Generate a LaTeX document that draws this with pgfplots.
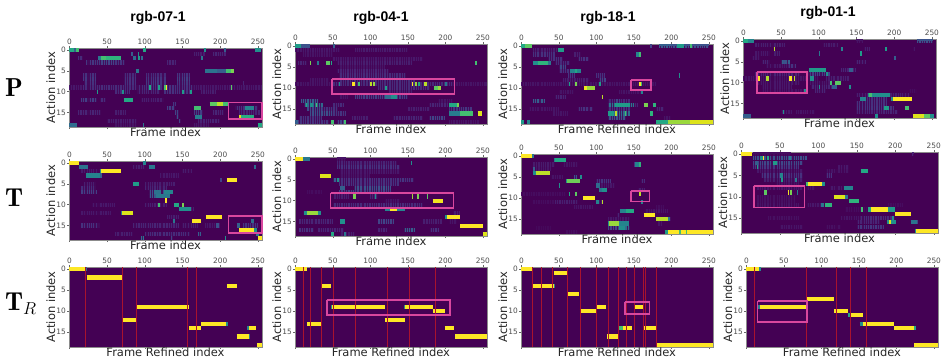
\documentclass[border=0pt]{standalone}
\usepackage{fontspec}
\setsansfont{DejaVu Sans}
\newfontfamily\titlefont{Liberation Sans}
\usepackage{pgfplots}
\usepackage{pgfplotstable}
\pgfplotsset{compat=1.18}
\definecolor{vbg}{HTML}{440154}
\definecolor{pinkbox}{HTML}{D9479E}
\definecolor{redline}{HTML}{A8122E}
\pgfplotsset{hm/.style={
  scale only axis, clip=false, y dir=reverse,
  xmin=-0.5, xmax=255.5, ymin=-0.5, ymax=18.5,
  xtick={0,50,100,150,200,250}, ytick={0,5,10,15},
  xtick pos=both, xticklabel pos=top, ytick pos=left,
  tick align=outside, major tick length=2pt,
  axis line style={draw=black!45, line width=0.5pt},
  tick style={draw=black!60, line width=0.4pt},
  tick label style={font=\sffamily\fontsize{7.4}{8}\selectfont, text=black!70, inner sep=1pt},
  /pgf/number format/assume math mode=true,
  axis background/.style={fill=vbg},
  colormap/viridis, point meta min=0, point meta max=1,
  x label style={font=\sffamily\fontsize{11.5}{12}\selectfont, text=black!85, at={(axis description cs:0.5,0)}, anchor=north, yshift=-1pt, inner sep=0pt},
  y label style={font=\sffamily\fontsize{11.5}{12}\selectfont, text=black!85, at={(axis description cs:0,0.5)}, rotate=0, anchor=south, yshift=13.5pt, inner sep=0pt},
  ylabel={Action index},
  rowseg/.style={point meta=explicit, quiver={u=\thisrow{w}, v=0, colored, every arrow/.append style={line width=4.15pt, line cap=butt}}},
}}
% one row per stretch of a heat map: x start, action row, length, colour value
% faint streaks
\pgfplotstableread[row sep=crcr]{x y w v\\
0 9 255 .06\\ 18 6 17 .14\\ 18 7 17 .16\\ 20 8 15 .14\\ 72 6 16 .12\\ 72 7 16 .14\\ 72 8 16 .14\\ 102 6 26 .12\\ 102 7 26 .15\\ 102 8 26 .16\\ 143 6 17 .15\\ 143 7 17 .18\\ 143 8 17 .16\\ 18 9 90 .12\\ 100 9 65 .14\\
12 2 6 .12\\ 22 3 18 .16\\ 40 3 20 .2\\ 60 3 14 .15\\ 15 12 22 .18\\ 40 12 8 .12\\ 95 12 30 .08\\ 130 3 12 .1\\ 165 1 15 .08\\ 190 1 18 .1\\ 205 5 10 .12\\ 230 8 2 .1\\ 60 10 20 .12\\ 90 10 30 .1\\ 125 10 38 .14\\ 175 10 20 .08\\ 12 15 30 .1\\ 60 15 15 .08\\ 130 14 10 .18\\ 140 15 6 .2\\ 137 13 5 .16\\ 142 16 4 .25\\ 145 17 3 .2\\ 165 15 12 .18\\ 190 15 15 .1\\ 50 17 40 .08\\ 170 17 30 .1\\ 220 14 30 .14\\ 225 15 28 .1\\
2 18 3 .15\\ 60 18 30 .05\\ 165 18 20 .06\\
}\tA
\pgfplotstableread[row sep=crcr]{x y w v\\
0 0 6 .6\\ 6 0 3 .3\\ 9 0 4 .7\\ 97 0 4 .6\\ 178 0 3 .5\\ 205 0 3 .3\\ 246 0 8 .5\\ 82 1 2 .3\\ 91 1 2 .5\\ 38 2 4 .4\\ 42 2 6 .7\\ 48 2 20 .65\\ 85 2 3 .35\\ 91 2 3 .55\\ 95 2 2 .35\\ 175 2 2 .4\\ 180 5 16 .38\\ 196 5 12 .3\\ 208 5 6 .7\\ 214 5 4 .8\\ 88 5 4 .4\\ 106 9 2 .6\\ 118 9 2 .55\\ 128 9 2 1\\ 126 9 2 .7\\ 214 9 2 .75\\ 36 10 2 .55\\ 70 10 2 .5\\ 150 10 2 .55\\ 160 10 2 .55\\ 72 12 12 .6\\ 186 13 10 .75\\ 196 13 8 .9\\ 204 13 6 .7\\ 165 14 10 .7\\ 233 14 12 .45\\ 166 16 10 .42\\ 225 16 2 .95\\ 227 16 18 .62\\ 0 18 10 .35\\ 97 18 2 .4\\ 250 18 5 .6\\
}\tAb
\pgfplotstableread[row sep=crcr]{x y w v\\
105 1 8 .15\\ 85 1 15 .08\\ 15 6 20 .12\\ 15 7 22 .18\\ 100 5 40 .08\\ 100 6 30 .1\\ 105 7 30 .25\\ 105 8 26 .28\\ 20 5 15 .08\\ 120 3 25 .06\\ 150 2 12 .07\\ 15 12 40 .06\\ 100 10 30 .08\\ 15 15 25 .14\\ 85 15 60 .1\\ 150 15 20 .08\\ 100 17 60 .12\\ 60 17 25 .08\\ 170 17 5 .3\\ 230 15 20 .15\\ 130 13 15 .08\\ 135 18 3 .2\\ 95 18 2 .35\\ 150 11 15 .08\\ 30 10 30 .06\\ 15 2 25 .07\\ 180 15 20 .06\\
}\tB
\pgfplotstableread[row sep=crcr]{x y w v\\
13 1 12 .38\\ 105 1 8 .4\\ 245 1 3 .35\\ 97 0 4 .45\\ 0 0 13 1\\ 40 2 2 .5\\ 42 2 26 1\\ 22 3 18 .45\\ 40 3 3 .3\\ 200 4 3 .2\\ 209 4 13 1\\ 85 5 8 .55\\ 125 7 12 .45\\ 112 7 10 .38\\ 115 8 18 .4\\ 127 9 2 1\\ 118 10 2 .7\\ 139 10 6 .6\\ 150 10 2 .8\\ 145 11 16 .5\\ 68 12 3 .4\\ 70 12 14 .95\\ 181 13 22 1\\ 137 14 3 .4\\ 163 14 11 1\\ 241 14 4 .35\\ 222 15 4 .3\\ 225 16 20 1\\ 245 16 4 .5\\ 195 15 4 .25\\ 248 17 4 .4\\ 206 18 2 .5\\ 97 18 2 .4\\ 250 18 5 1\\
}\tBb
\pgfplotstableread[row sep=crcr]{x y w v\\
0 0 22 1\\ 22 0 2 .35\\ 23 2 47 1\\ 209 4 13 1\\ 90 9 69 1\\ 70 12 20 1\\ 175 13 33 1\\ 208 13 2 .5\\ 159 14 15 1\\ 237 14 11 1\\ 236 14 2 .45\\ 222 16 16 1\\ 238 16 2 .4\\ 249 18 6 1\\
}\tC
\pgfplotstableread[row sep=crcr]{x y w v\\
0 9 255 .05\\ 50 3 120 .06\\ 55 4 100 .08\\ 55 6 70 .1\\ 58 7 90 .12\\ 60 8 100 .12\\ 20 8 25 .05\\ 50 9 160 .12\\ 110 10 70 .12\\ 0 1 60 .06\\ 80 1 70 .07\\ 10 2 40 .05\\ 80 12 70 .18\\ 125 11 30 .08\\ 8 13 22 .3\\ 12 14 25 .34\\ 15 15 20 .22\\ 35 15 22 .14\\ 20 16 35 .24\\ 5 17 30 .14\\ 50 16 18 .15\\ 50 14 15 .12\\ 75 17 22 .08\\ 130 17 40 .1\\ 178 17 22 .2\\ 178 14 25 .1\\ 150 15 30 .08\\ 205 15 30 .16\\ 190 13 20 .05\\ 60 12 10 .05\\ 205 18 40 .05\\ 0 18 45 .15\\ 55 18 12 .2\\ 4 4 12 .1\\ 60 5 60 .05\\
}\tD
\pgfplotstableread[row sep=crcr]{x y w v\\
0 0 7 .55\\ 7 0 13 .25\\ 50 0 3 .3\\ 19 4 2 .8\\ 29 4 2 .4\\ 41 4 5 .75\\ 47 4 2 .6\\ 240 4 2 .7\\ 58 9 2 .5\\ 76 9 4 1\\ 84 9 2 .7\\ 100 9 2 .9\\ 104 9 2 .85\\ 155 9 2 1\\ 160 9 2 .85\\ 164 9 2 .6\\ 172 9 4 .9\\ 200 9 2 .4\\ 120 10 2 .55\\ 185 10 5 .75\\ 190 10 4 .85\\ 128 12 8 .5\\ 120 12 8 .35\\ 14 14 2 .6\\ 20 14 3 .5\\ 27 14 2 .7\\ 205 14 10 .6\\ 215 14 3 .8\\ 205 16 15 .42\\ 220 16 17 .7\\ 243 16 6 .95\\ 48 18 3 .7\\ 65 18 2 .7\\ 0 18 3 .3\\
}\tDb
\pgfplotstableread[row sep=crcr]{x y w v\\
55 0 12 .05\\ 55 1 80 .1\\ 55 2 85 .14\\ 60 3 80 .06\\ 55 5 100 .14\\ 58 6 80 .14\\ 78 7 50 .25\\ 58 8 70 .18\\ 100 9 10 .1\\ 52 9 20 .08\\ 50 11 120 .12\\ 120 10 20 .05\\ 5 15 45 .1\\ 110 15 22 .2\\ 170 15 25 .08\\ 5 17 20 .14\\ 30 17 35 .1\\ 110 17 12 .1\\ 145 17 15 .3\\ 180 17 12 .14\\ 10 13 10 .1\\ 60 4 40 .05\\ 15 8 20 .03\\ 210 13 10 .08\\ 205 15 10 .05\\ 60 18 20 .08\\ 140 5 18 .15\\ 50 5 8 .3\\
}\tE
\pgfplotstableread[row sep=crcr]{x y w v\\
0 0 10 1\\ 10 0 10 .4\\ 154 1 2 .5\\ 33 4 14 .95\\ 55 5 3 .5\\ 60 7 6 .3\\ 77 9 4 .8\\ 106 9 2 .5\\ 155 9 2 .85\\ 162 9 3 .8\\ 175 9 2 .75\\ 183 10 14 .98\\ 120 12 6 .45\\ 126 12 10 1\\ 136 12 10 .45\\ 12 13 4 .5\\ 16 13 14 .85\\ 30 13 4 .5\\ 60 15 6 .5\\ 200 14 2 .5\\ 202 14 17 1\\ 220 16 30 1\\ 48 18 4 .6\\ 65 18 2 .4\\ 250 18 5 .95\\
}\tEb
\pgfplotstableread[row sep=crcr]{x y w v\\
0 0 16 1\\ 35 4 13 1\\ 48 9 71 1\\ 146 9 37 1\\ 183 10 16 1\\ 119 12 27 1\\ 16 13 19 1\\ 199 14 13 1\\ 213 16 42 1\\ 47 9 1 .5\\ 145 9 1 .45\\
}\tF
\pgfplotstableread[row sep=crcr]{x y w v\\
0 9 180 .05\\ 15 1 40 .08\\ 15 2 30 .14\\ 35 3 20 .14\\ 70 2 10 .08\\ 75 3 15 .14\\ 45 4 20 .12\\ 50 5 10 .22\\ 50 6 15 .14\\ 62 7 10 .15\\ 100 7 12 .14\\ 103 8 10 .2\\ 55 8 35 .08\\ 15 13 16 .3\\ 45 12 15 .1\\ 50 11 20 .05\\ 115 13 30 .12\\ 115 14 35 .4\\ 115 15 30 .14\\ 115 16 30 .35\\ 115 17 25 .25\\ 150 14 5 .1\\ 75 15 20 .14\\ 10 15 40 .05\\ 42 16 20 .05\\ 190 17 10 .05\\ 200 0 50 .25\\ 184 0 16 .3\\ 130 11 30 .05\\ 125 13 8 .2\\ 180 15 10 .1\\
}\tG
\pgfplotstableread[row sep=crcr]{x y w v\\
0 0 5 .6\\ 5 0 9 .75\\ 49 1 8 .55\\ 172 0 2 .2\\ 153 2 4 .45\\ 157 2 2 .7\\ 15 4 7 .5\\ 22 4 14 .65\\ 36 4 3 .4\\ 65 6 14 .45\\ 71 6 3 .6\\ 63 9 2 .55\\ 72 9 2 .8\\ 104 9 2 .55\\ 157 9 2 1\\ 159 9 1 .7\\ 83 10 4 .98\\ 87 10 11 .85\\ 107 12 2 .9\\ 160 11 2 .45\\ 125 14 20 .55\\ 163 14 6 .8\\ 175 14 4 .65\\ 115 16 8 .55\\ 125 16 3 .9\\ 138 16 2 .7\\ 172 16 3 .65\\ 0 18 4 .55\\ 8 18 4 .45\\ 180 18 15 .6\\ 195 18 30 .85\\ 225 18 30 .95\\ 207 0 10 .55\\ 225 0 3 .7\\ 210 7 2 .5\\
}\tGb
\pgfplotstableread[row sep=crcr]{x y w v\\
0 9 60 .03\\ 15 2 30 .07\\ 15 3 25 .06\\ 55 2 20 .05\\ 40 5 15 .05\\ 105 7 20 .06\\ 100 6 20 .15\\ 15 11 60 .03\\ 45 11 30 .08\\ 70 12 25 .05\\ 100 11 10 .06\\ 115 15 30 .06\\ 115 17 25 .2\\ 130 17 15 .35\\ 127 14 5 .1\\ 150 2 5 .15\\ 160 6 5 .12\\ 155 8 10 .08\\ 165 13 30 .05\\ 20 17 20 .02\\ 195 15 5 .04\\ 60 18 15 .03\\ 182 16 5 .05\\ 180 12 10 .03\\ 70 5 4 .25\\
}\tH
\pgfplotstableread[row sep=crcr]{x y w v\\
0 0 14 1\\ 14 0 3 .4\\ 43 1 2 .4\\ 45 1 14 .6\\ 152 2 5 .45\\ 157 2 2 .65\\ 15 3 3 .3\\ 15 4 4 .5\\ 19 4 19 .9\\ 50 7 2 .5\\ 59 6 3 .5\\ 61 6 17 .78\\ 78 5 3 .5\\ 103 8 11 .5\\ 100 7 5 .35\\ 103 8 4 .4\\ 63 9 1 .6\\ 72 9 2 .75\\ 157 9 2 .9\\ 82 10 16 1\\ 100 11 4 .45\\ 107 11 2 .9\\ 160 11 2 .45\\ 131 13 8 .45\\ 139 13 11 .6\\ 163 14 15 1\\ 180 15 15 .9\\ 195 15 3 .4\\ 115 16 2 .5\\ 117 16 13 .85\\ 130 16 14 .45\\ 130 17 8 .5\\ 191 18 5 .55\\ 196 18 59 1\\ 210 18 3 .7\\ 219 18 2 .7\\
}\tHb
\pgfplotstableread[row sep=crcr]{x y w v\\
0 0 14 1\\ 43 1 19 1\\ 14 4 29 1\\ 61 6 16 1\\ 100 9 13 1\\ 150 9 12 1\\ 78 10 22 1\\ 130 14 18 1\\ 162 14 18 1\\ 114 16 16 1\\ 180 18 75 1\\ 129 14 6 .7\\ 43 4 2 .4\\
}\tI
\pgfplotstableread[row sep=crcr]{x y w v\\
0 9 100 .05\\ 15 1 40 .08\\ 15 3 20 .06\\ 12 4 10 .06\\ 25 5 10 .1\\ 50 5 12 .3\\ 60 6 10 .15\\ 30 6 30 .06\\ 15 8 60 .1\\ 100 8 10 .14\\ 85 8 30 .2\\ 88 10 30 .06\\ 90 11 30 .1\\ 95 12 15 .1\\ 110 9 30 .08\\ 130 7 20 .1\\ 20 10 55 .06\\ 25 12 60 .05\\ 25 11 40 .06\\ 150 13 70 .08\\ 150 15 40 .14\\ 150 16 50 .15\\ 155 14 35 .14\\ 150 17 55 .1\\ 50 17 15 .06\\ 220 12 10 .03\\ 40 3 8 .08\\ 230 0 22 .25\\ 225 2 3 .05\\ 160 2 8 .08\\ 150 0 8 .05\\ 150 5 12 .1\\ 105 1 20 .07\\ 70 17 25 .05\\
}\tJ
\pgfplotstableread[row sep=crcr]{x y w v\\
0 0 6 .6\\ 6 0 8 .45\\ 40 2 2 .9\\ 130 2 2 .45\\ 188 2 2 .55\\ 100 3 2 .4\\ 155 3 2 .55\\ 52 5 6 .25\\ 200 4 2 .3\\ 87 7 23 .55\\ 140 7 5 .3\\ 110 8 2 .5\\ 20 9 2 1\\ 30 9 4 .88\\ 60 9 5 1\\ 67 9 2 .9\\ 88 9 6 .5\\ 115 10 2 .7\\ 122 10 8 .75\\ 100 11 2 .5\\ 118 11 6 .3\\ 140 11 3 .5\\ 80 12 3 .5\\ 165 13 30 .5\\ 167 13 3 .7\\ 155 14 8 .45\\ 198 14 26 1\\ 196 14 2 .5\\ 187 16 6 .55\\ 214 16 6 .7\\ 52 17 2 .5\\ 0 18 10 .3\\ 175 18 3 .5\\ 225 18 15 .95\\ 240 18 8 .75\\ 248 18 5 .5\\
}\tJb
\pgfplotstableread[row sep=crcr]{x y w v\\
15 0 50 .03\\ 15 1 70 .25\\ 15 2 65 .22\\ 15 3 60 .16\\ 20 4 60 .06\\ 25 5 55 .14\\ 30 6 50 .08\\ 45 7 30 .05\\ 110 5 8 .14\\ 110 4 30 .05\\ 125 3 15 .06\\ 20 8 60 .06\\ 85 8 10 .05\\ 20 10 50 .04\\ 20 12 55 .05\\ 85 12 20 .06\\ 115 8 25 .06\\ 20 11 50 .04\\ 155 15 45 .12\\ 150 16 30 .1\\ 150 17 35 .16\\ 130 15 25 .05\\ 35 15 40 .04\\ 50 17 30 .05\\ 110 17 20 .04\\ 190 12 20 .03\\ 135 13 30 .03\\ 225 16 5 .2\\ 222 0 2 .1\\
}\tK
\pgfplotstableread[row sep=crcr]{x y w v\\
0 0 14 1\\ 24 1 5 .5\\ 28 1 2 1\\ 33 1 3 .6\\ 41 2 5 .55\\ 18 2 4 .3\\ 62 1 3 .4\\ 20 3 2 .55\\ 155 4 9 .6\\ 50 5 4 .45\\ 52 6 2 .55\\ 70 6 2 .4\\ 84 7 3 .7\\ 87 7 18 1\\ 105 7 4 .5\\ 133 8 12 .45\\ 30 9 3 .75\\ 60 9 2 .98\\ 63 9 3 .8\\ 72 9 2 .4\\ 120 10 15 .95\\ 135 10 3 .4\\ 140 11 13 .65\\ 108 12 10 .65\\ 103 12 4 .4\\ 155 13 3 .7\\ 164 13 4 .6\\ 168 13 22 1\\ 190 13 9 .55\\ 200 14 21 1\\ 196 15 2 .5\\ 189 16 3 .5\\ 192 16 3 .95\\ 195 16 6 .5\\ 220 16 8 .38\\ 225 18 1 .5\\ 227 18 28 1\\
}\tKb
\pgfplotstableread[row sep=crcr]{x y w v\\
0 0 17 1\\ 17 0 2 .45\\ 80 7 37 1\\ 16 9 2 .45\\ 18 9 61 1\\ 117 10 19 1\\ 136 11 2 .6\\ 138 11 18 1\\ 151 13 5 .5\\ 155 13 42 1\\ 197 14 27 1\\ 224 18 31 1\\ 224 14 2 .6\\
}\tL
% dark gaps between the faint streaks
\pgfplotstableread[row sep=crcr]{x y\\ 1 18.5\\ 4 18.5\\ 8 18.5\\ 11 18.5\\ 13 18.5\\ 17 18.5\\ 20 18.5\\ 24 18.5\\ 26 18.5\\ 29 18.5\\ 33 18.5\\ 36 18.5\\ 39 18.5\\ 41 18.5\\ 45 18.5\\ 48 18.5\\ 51 18.5\\ 55 18.5\\ 57 18.5\\ 60 18.5\\ 64 18.5\\ 67 18.5\\ 70 18.5\\ 73 18.5\\ 76 18.5\\ 79 18.5\\ 82 18.5\\ 86 18.5\\ 89 18.5\\ 91 18.5\\ 95 18.5\\ 98 18.5\\ 101 18.5\\ 104 18.5\\ 107 18.5\\ 110 18.5\\ 113 18.5\\ 116 18.5\\ 120 18.5\\ 123 18.5\\ 125 18.5\\ 129 18.5\\ 132 18.5\\ 135 18.5\\ 139 18.5\\ 142 18.5\\ 145 18.5\\ 148 18.5\\ 151 18.5\\ 154 18.5\\ 158 18.5\\ 161 18.5\\ 164 18.5\\ 167 18.5\\ 170 18.5\\ 173 18.5\\ 177 18.5\\ 180 18.5\\ 183 18.5\\ 186 18.5\\ 189 18.5\\ 192 18.5\\ 196 18.5\\ 199 18.5\\ 202 18.5\\ 205 18.5\\ 208 18.5\\ 211 18.5\\ 215 18.5\\ 218 18.5\\ 221 18.5\\ 224 18.5\\ 227 18.5\\ 230 18.5\\ 234 18.5\\ 237 18.5\\ 240 18.5\\ 243 18.5\\ 246 18.5\\ 249 18.5\\ 253 18.5\\}\gapA
\pgfplotstableread[row sep=crcr]{x y\\ 2 18.5\\ 6 18.5\\ 9 18.5\\ 12 18.5\\ 15 18.5\\ 19 18.5\\ 22 18.5\\ 25 18.5\\ 28 18.5\\ 31 18.5\\ 34 18.5\\ 38 18.5\\ 40 18.5\\ 44 18.5\\ 47 18.5\\ 50 18.5\\ 53 18.5\\ 56 18.5\\ 59 18.5\\ 63 18.5\\ 66 18.5\\ 68 18.5\\ 72 18.5\\ 75 18.5\\ 78 18.5\\ 81 18.5\\ 84 18.5\\ 87 18.5\\ 90 18.5\\ 94 18.5\\ 97 18.5\\ 100 18.5\\ 103 18.5\\ 106 18.5\\ 109 18.5\\ 112 18.5\\ 115 18.5\\ 118 18.5\\ 122 18.5\\ 124 18.5\\ 128 18.5\\ 131 18.5\\ 134 18.5\\ 137 18.5\\ 141 18.5\\ 144 18.5\\ 147 18.5\\ 150 18.5\\ 153 18.5\\ 156 18.5\\ 160 18.5\\ 163 18.5\\ 166 18.5\\ 169 18.5\\ 172 18.5\\ 175 18.5\\ 179 18.5\\ 182 18.5\\ 185 18.5\\ 188 18.5\\ 191 18.5\\ 194 18.5\\ 198 18.5\\ 201 18.5\\ 204 18.5\\ 207 18.5\\ 210 18.5\\ 213 18.5\\ 217 18.5\\ 220 18.5\\ 223 18.5\\ 226 18.5\\ 229 18.5\\ 232 18.5\\ 236 18.5\\ 239 18.5\\ 242 18.5\\ 245 18.5\\ 248 18.5\\ 251 18.5\\}\gapB
% x, bottom, width, height (px), table, x label, further plots, box
\newcommand{\panel}[8]{%
\begin{axis}[hm, at={(#1pt,#2pt)}, anchor=south west, width=#3pt, height=#4pt, xlabel={#6}]
\addplot[rowseg] table[x=x,y=y,meta=v] {#5};
#7
\addplot[draw=pinkbox, line width=1.7pt, line join=miter] coordinates {#8};
\end{axis}}
\newcommand{\redlines}[1]{\addplot[draw=redline, line width=0.7pt, unbounded coords=jump] coordinates {#1};}
\newcommand{\streaks}[2]{\addplot[ycomb, draw=vbg, draw opacity=.8, line width=1.1pt] table[x=x,y=y] {#1};
\addplot[rowseg] table[x=x,y=y,meta=v] {#2};}
\begin{document}
\begin{tikzpicture}[x=1pt,y=1pt]
\path[use as bounding box] (0,0) rectangle (947,363);
\panel{69}{236}{193}{79}{\tA}{Frame index}{\streaks{\gapA}{\tAb}}{(211,12.6)(255.5,12.6)(255.5,16.6)(211,16.6)(211,12.6)}
\panel{69}{123}{193}{79}{\tB}{Frame index}{\streaks{\gapB}{\tBb}}{(211,12.8)(255.5,12.8)(255.5,16.8)(211,16.8)(211,12.8)}
\panel{69}{16}{193}{80}{\tC}{Frame Refined index}{\redlines{(21.5,-0.5)(21.5,18.5)(nan,nan)(70,-0.5)(70,18.5)(nan,nan)(89,-0.5)(89,18.5)(nan,nan)(157,-0.5)(157,18.5)(nan,nan)(169,-0.5)(169,18.5)}}{}
\panel{295}{239}{192}{80}{\tD}{Frame index}{\streaks{\gapB}{\tDb}}{(49,7.8)(212,7.8)(212,11.3)(49,11.3)(49,7.8)}
\panel{295}{127}{192}{79}{\tE}{Frame index}{\streaks{\gapA}{\tEb}}{(47,8.2)(211,8.2)(211,11.7)(47,11.7)(47,8.2)}
\panel{295}{16}{192}{80}{\tF}{Frame Refined index}{\redlines{(10,-0.5)(10,18.5)(nan,nan)(20,-0.5)(20,18.5)(nan,nan)(35,-0.5)(35,18.5)(nan,nan)(50,-0.5)(50,18.5)(nan,nan)(80,-0.5)(80,18.5)(nan,nan)(122,-0.5)(122,18.5)(nan,nan)(152,-0.5)(152,18.5)(nan,nan)(186,-0.5)(186,18.5)}}{(42,7.4)(206,7.4)(206,10.9)(42,10.9)(42,7.4)}
\panel{521}{239}{192}{80}{\tG}{Frame Refined index}{\streaks{\gapA}{\tGb}}{(146,8)(172.6,8)(172.6,10.4)(146,10.4)(146,8)}
\panel{521}{129}{192}{80}{\tH}{Frame index}{\streaks{\gapB}{\tHb}}{(146,8.3)(171,8.3)(171,10.8)(146,10.8)(146,8.3)}
\panel{521}{16}{192}{80}{\tI}{Frame Refined index}{\redlines{(15,-0.5)(15,18.5)(nan,nan)(26,-0.5)(26,18.5)(nan,nan)(41,-0.5)(41,18.5)(nan,nan)(61,-0.5)(61,18.5)(nan,nan)(79,-0.5)(79,18.5)(nan,nan)(100,-0.5)(100,18.5)(nan,nan)(116,-0.5)(116,18.5)(nan,nan)(129,-0.5)(129,18.5)(nan,nan)(140,-0.5)(140,18.5)(nan,nan)(151,-0.5)(151,18.5)(nan,nan)(162,-0.5)(162,18.5)(nan,nan)(165,-0.5)(165,18.5)(nan,nan)(180,-0.5)(180,18.5)}}{(138,7.8)(171,7.8)(171,10.6)(138,10.6)(138,7.8)}
\panel{743}{245}{193}{79}{\tJ}{Frame index}{\streaks{\gapB}{\tJb}}{(17.7,7.4)(84,7.4)(84,12.5)(17.7,12.5)(17.7,7.4)}
\panel{741}{130}{197}{81}{\tK}{Frame index}{\streaks{\gapA}{\tKb}}{(16,7.5)(82,7.5)(82,12.5)(16,12.5)(16,7.5)}
\panel{746}{16}{192}{80}{\tL}{Frame Refined index}{\redlines{(11,-0.5)(11,18.5)(nan,nan)(80,-0.5)(80,18.5)(nan,nan)(120,-0.5)(120,18.5)(nan,nan)(138,-0.5)(138,18.5)(nan,nan)(160,-0.5)(160,18.5)}}{(15,7.5)(81,7.5)(81,12.5)(15,12.5)(15,7.5)}
\node[font=\titlefont\bfseries\fontsize{14}{16}\selectfont] at (158,345) {rgb-07-1};
\node[font=\titlefont\bfseries\fontsize{14}{16}\selectfont] at (381,345) {rgb-04-1};
\node[font=\titlefont\bfseries\fontsize{14}{16}\selectfont] at (608,345) {rgb-18-1};
\node[font=\titlefont\bfseries\fontsize{14}{16}\selectfont] at (828,350) {rgb-01-1};
\node[anchor=base west, inner sep=0pt] at (5,266) {\fontsize{26}{28}\selectfont$\mathbf{P}$};
\node[anchor=base west, inner sep=0pt] at (5,156) {\fontsize{26}{28}\selectfont$\mathbf{T}$};
\node[anchor=base west, inner sep=0pt] at (5,52) {\fontsize{26}{28}\selectfont$\mathbf{T}_{R}$};
\end{tikzpicture}
\end{document}
